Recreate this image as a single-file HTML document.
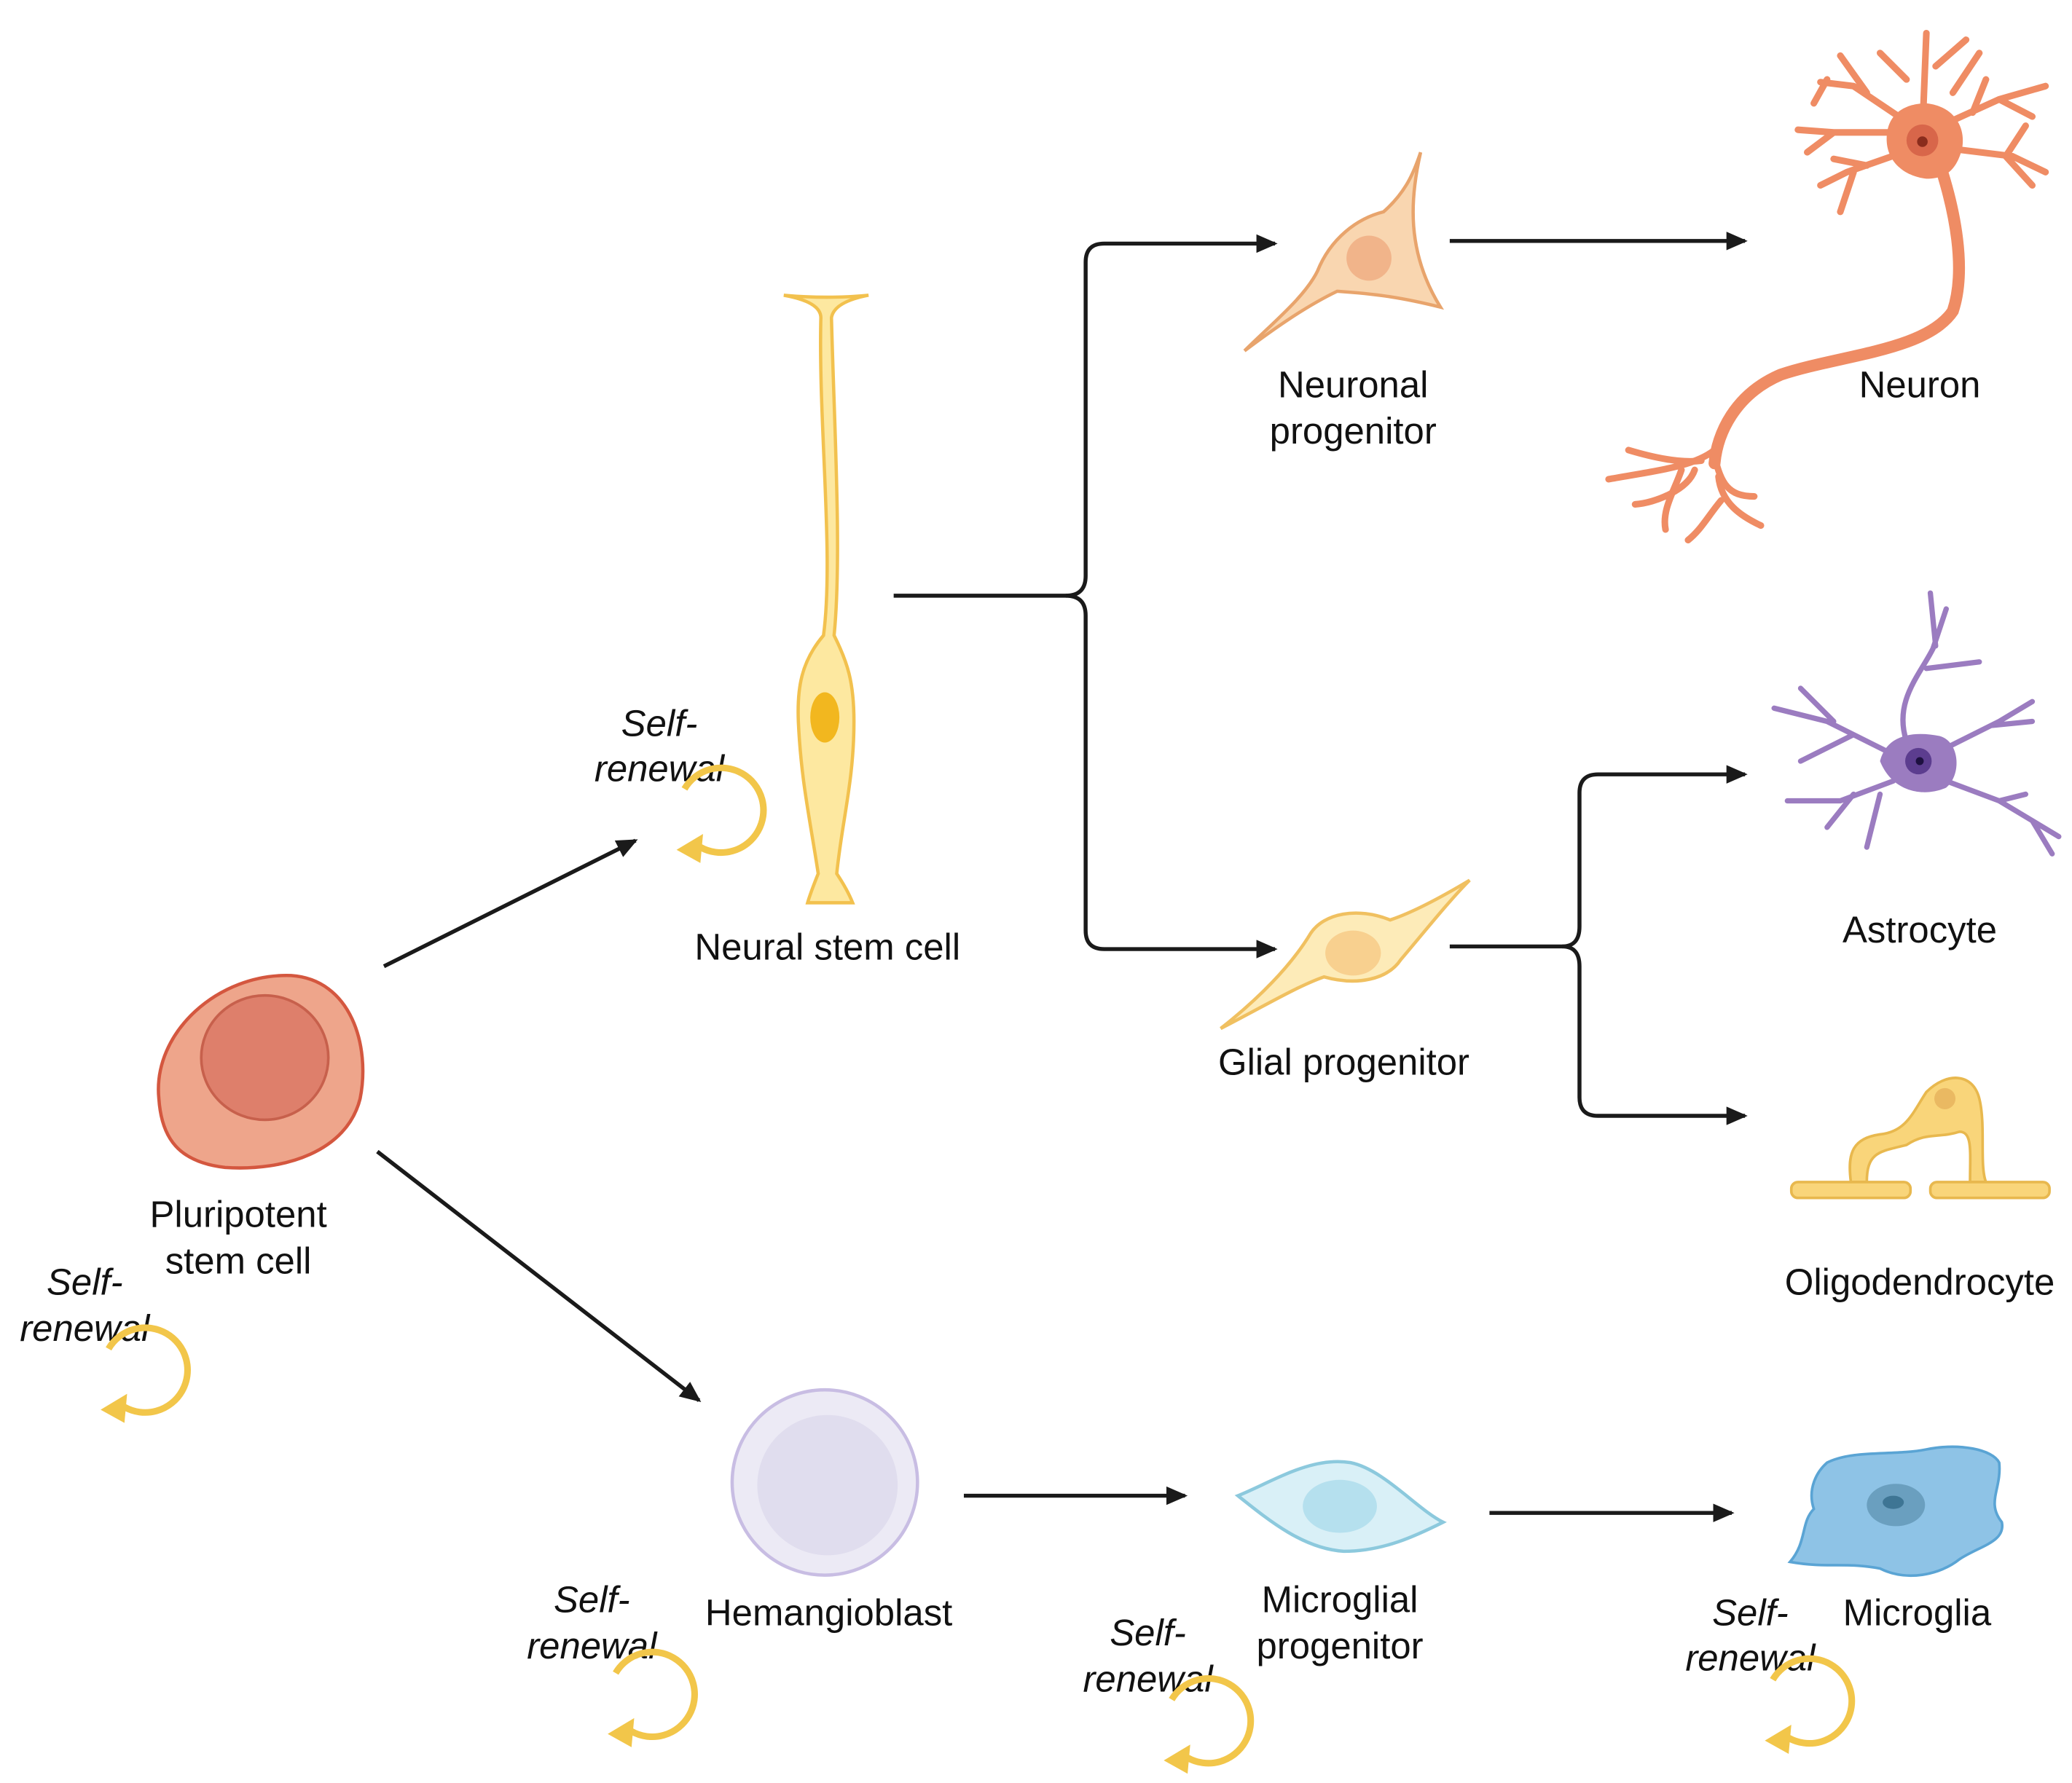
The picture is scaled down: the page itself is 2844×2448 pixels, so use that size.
<!DOCTYPE html>
<html><head><meta charset="utf-8"><style>
html,body{margin:0;padding:0;background:#fff;}
svg{display:block;}
text{font-family:"Liberation Sans",sans-serif;font-size:28px;fill:#111;text-anchor:middle;}
.it{font-style:italic;}
</style></head><body>
<svg width="2844" height="2448" viewBox="0 0 1565 1347" xmlns="http://www.w3.org/2000/svg">
<defs>
<marker id="ah" markerWidth="16" markerHeight="14" refX="14" refY="7" orient="auto" markerUnits="userSpaceOnUse" viewBox="0 0 16 14">
<path d="M0,0 L16,7 L0,14 z" fill="#1a1a1a"/></marker>
<g id="loop">
<path d="M-28,-16 A32,32 0 1 1 -16,28" fill="none" stroke="#f2c64a" stroke-width="5"/>
<polygon points="-34,30 -14,18 -16,40" fill="#f2c64a"/>
</g>
</defs>
<rect width="1565" height="1347" fill="#fff"/>

<!-- arrows -->
<g stroke="#1a1a1a" stroke-width="3" fill="none">
<line x1="290" y1="730" x2="480" y2="635" marker-end="url(#ah)"/>
<line x1="285" y1="870" x2="528" y2="1058" marker-end="url(#ah)"/>
<path d="M675,450 H805 Q820,450 820,435 V198 Q820,184 834,184 H963" marker-end="url(#ah)"/>
<path d="M805,450 Q820,450 820,465 V703 Q820,717 834,717 H963" marker-end="url(#ah)"/>
<line x1="1095" y1="182" x2="1318" y2="182" marker-end="url(#ah)"/>
<path d="M1095,715 H1180 Q1193,715 1193,700 V599 Q1193,585 1207,585 H1318" marker-end="url(#ah)"/>
<path d="M1180,715 Q1193,715 1193,730 V829 Q1193,843 1207,843 H1318" marker-end="url(#ah)"/>
<line x1="728" y1="1130" x2="895" y2="1130" marker-end="url(#ah)"/>
<line x1="1125" y1="1143" x2="1308" y2="1143" marker-end="url(#ah)"/>
</g>

<!-- pluripotent -->
<path d="M120,830 C115,780 165,735 220,737 C265,740 280,790 272,830 C262,870 215,885 170,882 C135,878 122,860 120,830 Z" fill="#eea58b" stroke="#d4573f" stroke-width="2.5"/>
<ellipse cx="200" cy="799" rx="48" ry="47" fill="#de7f6b" stroke="#c7604c" stroke-width="2"/>

<!-- neural stem cell -->
<path d="M592,223 Q620,228 620,240 C618,320 630,420 622,480 C605,500 602,520 603,545 C605,590 612,620 618,660 Q612,675 610,682 H644 Q640,672 632,660 C636,620 645,590 645,545 C645,515 640,500 630,480 C636,420 630,320 628,240 Q630,228 656,223 Q625,226 592,223 Z" fill="#fde8a0" stroke="#f2c14e" stroke-width="2.5"/>
<ellipse cx="623" cy="542" rx="11" ry="19" fill="#f2b71f"/>

<!-- neuronal progenitor -->
<path d="M1073,115 C1065,150 1062,190 1088,232 C1060,225 1040,222 1010,220 C985,232 960,250 940,265 C960,245 985,225 995,205 C1005,180 1025,165 1045,160 C1062,145 1068,130 1073,115 Z" fill="#f9d6b0" stroke="#e8a46c" stroke-width="2.5"/>
<ellipse cx="1034" cy="195" rx="17" ry="17" fill="#f1b48a"/>

<!-- glial progenitor -->
<path d="M1110,665 C1085,680 1065,690 1050,695 C1025,685 1000,690 990,705 C975,730 950,755 922,777 C955,760 980,745 1000,738 C1025,745 1048,740 1058,725 C1075,705 1095,680 1110,665 Z" fill="#fdebb8" stroke="#f0c060" stroke-width="2.5"/>
<ellipse cx="1022" cy="720" rx="21" ry="17" fill="#f8d08f"/>

<!-- neuron -->
<g stroke="#ef8c64" stroke-linecap="round" fill="none">
<path d="M1462,115 C1478,160 1485,205 1475,235 C1455,265 1390,268 1345,283 C1310,298 1297,328 1295,350" stroke-width="9"/>
<g stroke-width="5">
<path d="M1295,340 C1280,352 1255,355 1215,362"/>
<path d="M1285,348 C1270,350 1250,346 1230,340"/>
<path d="M1295,345 C1300,365 1305,375 1325,375"/>
<path d="M1280,355 C1275,370 1250,380 1235,381"/>
<path d="M1270,355 C1265,370 1255,385 1258,400"/>
<path d="M1298,360 C1300,380 1315,390 1330,397"/>
<path d="M1300,378 C1290,390 1285,400 1275,408"/>
<path d="M1452,100 L1455,25 M1440,60 L1420,40 M1462,50 L1485,30 M1475,70 L1495,40"/>
<path d="M1452,100 L1400,65 M1400,65 L1375,62 M1410,70 L1390,42 M1380,60 L1370,78"/>
<path d="M1452,100 L1385,100 L1365,115 M1385,100 L1358,98"/>
<path d="M1452,110 L1395,130 L1375,140 M1410,125 L1385,120 M1400,130 L1390,160"/>
<path d="M1455,100 L1510,75 L1545,65 M1510,75 L1535,88 M1490,85 L1500,60"/>
<path d="M1455,110 L1520,118 L1545,130 M1515,118 L1530,95 M1515,118 L1535,140"/>
</g></g>
<path d="M1425,105 C1425,85 1440,78 1455,78 C1475,80 1485,95 1482,112 C1478,128 1470,135 1455,135 C1438,133 1425,122 1425,105 Z" fill="#ef8c64"/>
<circle cx="1452" cy="106" r="12" fill="#d8664a"/>
<circle cx="1452" cy="107" r="4" fill="#8a2c1c"/>
<text x="1450" y="300">Neuron</text>

<!-- astrocyte -->
<g stroke="#9b7cc0" stroke-linecap="round" fill="none" stroke-width="4">
<path d="M1440,560 C1430,530 1450,510 1460,490 L1470,460 M1462,488 L1458,448 M1455,505 L1495,500"/>
<path d="M1430,570 L1380,545 L1340,535 M1385,545 L1360,520 M1400,555 L1360,575"/>
<path d="M1470,565 L1510,545 L1535,530 M1505,548 L1535,545"/>
<path d="M1430,590 L1390,605 L1350,605 M1400,600 L1380,625 M1420,600 L1410,640"/>
<path d="M1470,590 L1510,605 L1535,620 L1550,645 M1510,605 L1530,600 M1535,620 L1555,632"/>
</g>
<path d="M1420,575 C1425,555 1445,552 1465,556 C1480,560 1482,585 1470,595 C1455,602 1430,600 1420,575 Z" fill="#9b7cc0"/>
<circle cx="1449" cy="575" r="10" fill="#5c3d8f"/>
<circle cx="1450" cy="575" r="3" fill="#1d1040"/>
<text x="1450" y="712">Astrocyte</text>

<!-- oligodendrocyte -->
<path d="M1398,893 C1395,870 1400,860 1420,857 C1440,855 1445,840 1455,825 C1470,810 1490,810 1495,830 C1500,850 1495,880 1500,893 H1488 C1488,870 1490,855 1480,855 C1465,860 1455,855 1440,865 C1420,870 1410,870 1410,893 Z" fill="#f9d57a" stroke="#e8b84e" stroke-width="2"/>
<rect x="1353" y="893" width="90" height="12" rx="5" fill="#f9d57a" stroke="#e8b84e" stroke-width="2"/>
<rect x="1458" y="893" width="90" height="12" rx="5" fill="#f9d57a" stroke="#e8b84e" stroke-width="2"/>
<circle cx="1469" cy="830" r="8" fill="#eab962"/>
<text x="1450" y="978">Oligodendrocyte</text>

<!-- hemangioblast -->
<circle cx="623" cy="1120" r="70" fill="#eceaf5" stroke="#c8bde3" stroke-width="2.5"/>
<circle cx="625" cy="1122" r="53" fill="#e0ddee"/>

<!-- microglial progenitor -->
<path d="M935,1130 C960,1120 990,1100 1020,1105 C1045,1110 1070,1140 1090,1150 C1070,1160 1045,1172 1015,1172 C985,1170 960,1150 935,1130 Z" fill="#d9f0f7" stroke="#8cc9dd" stroke-width="2.5"/>
<ellipse cx="1012" cy="1138" rx="28" ry="20" fill="#b5e0ee"/>

<!-- microglia -->
<path d="M1380,1105 C1400,1095 1430,1100 1455,1095 C1480,1090 1505,1095 1510,1105 C1512,1125 1500,1135 1512,1150 C1515,1165 1495,1168 1480,1178 C1465,1190 1440,1195 1420,1185 C1395,1180 1380,1185 1352,1180 C1365,1165 1360,1150 1370,1140 C1365,1125 1372,1112 1380,1105 Z" fill="#8ec3e6" stroke="#5aa4d4" stroke-width="2"/>
<ellipse cx="1432" cy="1137" rx="22" ry="16" fill="#6a9fbf"/>
<ellipse cx="1430" cy="1135" rx="8" ry="5" fill="#3e7594"/>

<!-- labels -->
<text x="1022" y="300">Neuronal</text>
<text x="1022" y="335">progenitor</text>
<text x="625" y="725">Neural stem cell</text>
<text x="1015" y="812">Glial progenitor</text>
<text x="180" y="927">Pluripotent</text>
<text x="180" y="962">stem cell</text>
<text x="626" y="1228">Hemangioblast</text>
<text x="1012" y="1218">Microglial</text>
<text x="1012" y="1253">progenitor</text>
<text x="1448" y="1228">Microglia</text>

<!-- self-renewal -->
<text class="it" x="498" y="556">Self-</text><text class="it" x="498" y="590">renewal</text>
<use href="#loop" x="545" y="612"/>
<text class="it" x="64" y="978">Self-</text><text class="it" x="64" y="1013">renewal</text>
<use href="#loop" x="110" y="1035"/>
<text class="it" x="447" y="1218">Self-</text><text class="it" x="447" y="1253">renewal</text>
<use href="#loop" x="493" y="1280"/>
<text class="it" x="867" y="1243">Self-</text><text class="it" x="867" y="1278">renewal</text>
<use href="#loop" x="913" y="1300"/>
<text class="it" x="1322" y="1228">Self-</text><text class="it" x="1322" y="1262">renewal</text>
<use href="#loop" x="1367" y="1285"/>
</svg>
</body></html>
